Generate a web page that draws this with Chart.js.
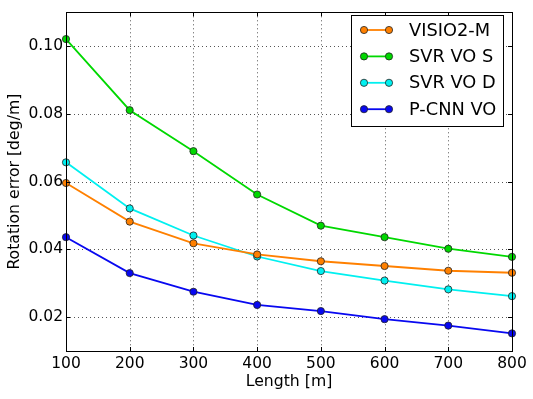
<!DOCTYPE html>
<html>
<head>
<meta charset="utf-8">
<script src="https://cdn.jsdelivr.net/npm/chart.js@4/dist/chart.umd.min.js"></script>
<style>
  html, body { margin: 0; padding: 0; background: #fff; }
  #wrap { width: 533px; height: 399px; }
</style>
</head>
<body>
<div id="wrap"><canvas id="chart" width="533" height="399"></canvas></div>
<script>
// data
const lengths = [100, 200, 300, 400, 500, 600, 700, 800];
const visio2m = [0.0596, 0.0482, 0.0418, 0.0385, 0.0365, 0.0351, 0.0337, 0.0331];
const svrVoS = [0.1021, 0.0811, 0.0690, 0.0562, 0.0470, 0.0436, 0.0402, 0.0378];
const svrVoD = [0.0657, 0.0521, 0.0441, 0.0379, 0.0336, 0.0308, 0.0282, 0.0262];
const pcnnVo = [0.0436, 0.0330, 0.0275, 0.0236, 0.0218, 0.0194, 0.0175, 0.0152];
const xTicks = [100, 200, 300, 400, 500, 600, 700, 800];
const yTicks = [0.02, 0.04, 0.06, 0.08, 0.10];

const FONT = "'DejaVu Sans', sans-serif";

function makeSeries(label, values, color) {
    return {
        label: label,
        data: lengths.map((x, i) => ({ x: x, y: values[i] })),
        borderColor: color,
        backgroundColor: color,
        borderWidth: 1.8,
        pointRadius: 3.6,
        pointBorderColor: "#222",
        pointBorderWidth: 0.8,
        pointBackgroundColor: color,
        tension: 0,
        clip: false
    };
}

// dotted grid behind the lines
const gridPlugin = {
    id: "dotgrid",
    beforeDatasetsDraw(chart) {
        const ctx = chart.ctx;
        const a = chart.chartArea;
        const xs = chart.scales.x, ys = chart.scales.y;
        ctx.save();
        ctx.strokeStyle = "#555";
        ctx.lineWidth = 1;
        ctx.setLineDash([1, 3]);
        ctx.beginPath();
        xTicks.forEach(v => {
            const px = Math.round(xs.getPixelForValue(v)) + 0.5;
            ctx.moveTo(px, a.top); ctx.lineTo(px, a.bottom);
        });
        yTicks.forEach(v => {
            const py = Math.round(ys.getPixelForValue(v)) + 0.5;
            ctx.moveTo(a.left, py); ctx.lineTo(a.right, py);
        });
        ctx.stroke();
        ctx.restore();
    }
};

// frame, inward tick marks and the legend box like matplotlib
const framePlugin = {
    id: "frame",
    afterDraw(chart) {
        const ctx = chart.ctx;
        const a = chart.chartArea;
        const xs = chart.scales.x, ys = chart.scales.y;
        ctx.save();
        ctx.strokeStyle = "#000";
        ctx.lineWidth = 1;
        ctx.strokeRect(Math.round(a.left) + 0.5, Math.round(a.top) + 0.5,
            Math.round(a.right - a.left), Math.round(a.bottom - a.top));
        ctx.beginPath();
        xTicks.forEach(v => {
            const px = Math.round(xs.getPixelForValue(v)) + 0.5;
            ctx.moveTo(px, a.bottom); ctx.lineTo(px, a.bottom - 4);
            ctx.moveTo(px, a.top); ctx.lineTo(px, a.top + 4);
        });
        yTicks.forEach(v => {
            const py = Math.round(ys.getPixelForValue(v)) + 0.5;
            ctx.moveTo(a.left, py); ctx.lineTo(a.left + 4, py);
            ctx.moveTo(a.right, py); ctx.lineTo(a.right - 4, py);
        });
        ctx.stroke();

        // legend
        const bx = 351, by = 15, bw = 152, bh = 111;
        ctx.fillStyle = "#fff";
        ctx.fillRect(bx, by, bw, bh);
        ctx.strokeStyle = "#000";
        ctx.strokeRect(bx + 0.5, by + 0.5, bw, bh);
        ctx.font = "17.8px " + FONT;
        ctx.textBaseline = "middle";
        chart.data.datasets.forEach((ds, i) => {
            const y = 30 + i * 26.4;
            ctx.strokeStyle = ds.borderColor;
            ctx.lineWidth = 1.8;
            ctx.beginPath();
            ctx.moveTo(364, y); ctx.lineTo(389, y);
            ctx.stroke();
            [364, 389].forEach(px => {
                ctx.beginPath();
                ctx.arc(px, y, 3.6, 0, Math.PI * 2);
                ctx.fillStyle = ds.borderColor;
                ctx.fill();
                ctx.lineWidth = 0.8;
                ctx.strokeStyle = "#222";
                ctx.stroke();
            });
            ctx.fillStyle = "#000";
            ctx.fillText(ds.label, 409, y + 1);
        });
        ctx.restore();
    }
};

const ctx = document.getElementById("chart").getContext("2d");
new Chart(ctx, {
    type: "line",
    data: {
        datasets: [
            makeSeries("VISIO2-M", visio2m, "#ff8000"),
            makeSeries("SVR VO S", svrVoS, "#00d800"),
            makeSeries("SVR VO D", svrVoD, "#00f0f0"),
            makeSeries("P-CNN VO", pcnnVo, "#0808f0")
        ]
    },
    options: {
        responsive: false,
        animation: false,
        layout: { padding: { left: 0, top: 6, right: 21, bottom: 0 } },
        plugins: {
            legend: { display: false },
            tooltip: { enabled: false }
        },
        scales: {
            x: {
                type: "linear",
                min: 100,
                max: 800,
                afterBuildTicks: scale => { scale.ticks = xTicks.map(v => ({ value: v })); },
                afterFit: scale => { scale.height = 48; },
                grid: { display: false, drawTicks: false },
                border: { display: false },
                ticks: {
                    color: "#000",
                    font: { family: FONT, size: 15.5 },
                    padding: 4,
                    maxRotation: 0,
                    callback: v => String(v)
                },
                title: {
                    display: true,
                    text: "Length [m]",
                    color: "#000",
                    font: { family: FONT, size: 15.7 },
                    padding: { top: 0, bottom: 8 }
                }
            },
            y: {
                min: 0.01,
                max: 0.11,
                afterBuildTicks: scale => { scale.ticks = yTicks.map(v => ({ value: v })); },
                afterFit: scale => { scale.width = 66; },
                grid: { display: false, drawTicks: false },
                border: { display: false },
                ticks: {
                    color: "#000",
                    font: { family: FONT, size: 15.5 },
                    padding: 3,
                    callback: v => v.toFixed(2)
                },
                title: {
                    display: true,
                    text: "Rotation error [deg/m]",
                    color: "#000",
                    font: { family: FONT, size: 15.7 },
                    padding: { top: 6, bottom: 0 }
                }
            }
        }
    },
    plugins: [gridPlugin, framePlugin]
});
</script>
</body>
</html>
